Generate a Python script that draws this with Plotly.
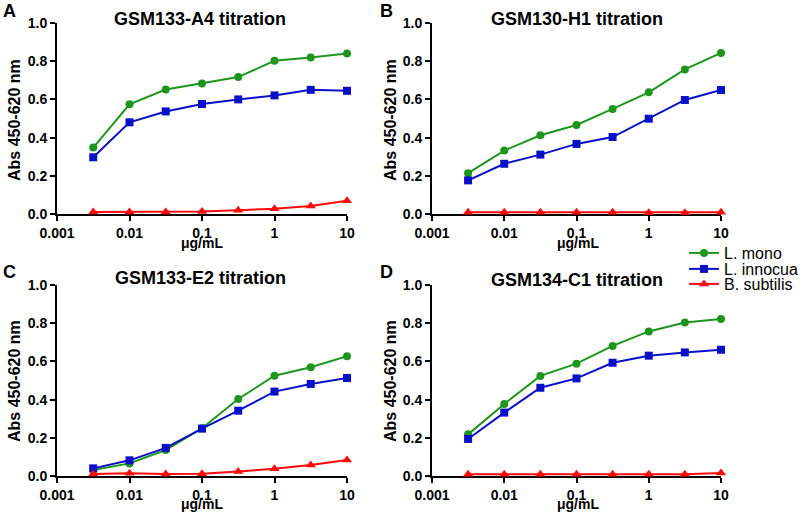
import plotly.graph_objects as go

# ---------------- data ----------------
conc = [0.00316, 0.01, 0.0316, 0.1, 0.316, 1, 3.16, 10]
series_names = ["L. mono", "L. innocua", "B. subtilis"]
panel_titles = ["GSM133-A4 titration", "GSM130-H1 titration",
                "GSM133-E2 titration", "GSM134-C1 titration"]
panel_letters = ["A", "B", "C", "D"]
x_tickvals = [0.001, 0.01, 0.1, 1, 10]
x_ticktext = ["0.001", "0.01", "0.1", "1", "10"]
y_tickvals = [0.0, 0.2, 0.4, 0.6, 0.8, 1.0]
x_title = "μg/mL"
y_title = "Abs 450-620 nm"

a_mono = [0.348, 0.574, 0.652, 0.683, 0.717, 0.802, 0.819, 0.840]
a_innocua = [0.297, 0.480, 0.537, 0.576, 0.600, 0.621, 0.650, 0.645]
a_subtilis = [0.010, 0.010, 0.010, 0.013, 0.020, 0.028, 0.042, 0.070]

b_mono = [0.214, 0.332, 0.412, 0.466, 0.550, 0.637, 0.757, 0.843]
b_innocua = [0.176, 0.263, 0.311, 0.367, 0.403, 0.499, 0.597, 0.649]
b_subtilis = [0.009, 0.009, 0.009, 0.009, 0.009, 0.006, 0.006, 0.009]

c_mono = [0.031, 0.066, 0.136, 0.250, 0.403, 0.525, 0.569, 0.627]
c_innocua = [0.040, 0.082, 0.147, 0.248, 0.342, 0.442, 0.482, 0.513]
c_subtilis = [0.010, 0.014, 0.010, 0.012, 0.023, 0.038, 0.058, 0.084]

d_mono = [0.218, 0.377, 0.524, 0.588, 0.681, 0.757, 0.804, 0.822]
d_innocua = [0.194, 0.332, 0.462, 0.511, 0.593, 0.630, 0.647, 0.661]
d_subtilis = [0.009, 0.009, 0.009, 0.009, 0.009, 0.009, 0.009, 0.016]

panels = [
    [a_mono, a_innocua, a_subtilis],
    [b_mono, b_innocua, b_subtilis],
    [c_mono, c_innocua, c_subtilis],
    [d_mono, d_innocua, d_subtilis],
]

# ---------------- styles ----------------
colors = ["#1e961e", "#0a0fc8", "#ff0a0a"]
symbols = ["circle", "square", "triangle-up"]
msizes = [8, 8, 9]
FONT = "Arial, Liberation Sans, sans-serif"
W, H = 800, 514

# pixel geometry of each panel: (x_left, x_right, y_top, y_bottom)
geom = [(57, 347, 23, 214), (432, 721, 23, 214),
        (57, 347, 285, 476), (432, 721, 285, 476)]
title_pos = [(200, 19), (577, 19), (200, 278), (577, 280)]
letter_pos = [(9, 11), (386, 11), (9, 272), (386, 272)]
xtitle_pos = [(202, 243), (578, 243), (202, 504), (578, 504)]
ytitle_pos = [(14, 120), (390, 120), (14, 381), (390, 381)]
legend_y = [253, 269, 284]
legend_names = ["legend", "legend2", "legend3"]

fig = go.Figure()

for p, series in enumerate(panels):
    ax = "" if p == 0 else str(p + 1)
    for s, vals in enumerate(series):
        fig.add_trace(go.Scatter(
            x=conc, y=vals, mode="lines+markers",
            name=series_names[s],
            showlegend=(p == 0),
            legend=legend_names[s],
            line=dict(color=colors[s], width=2),
            marker=dict(color=colors[s], symbol=symbols[s], size=msizes[s]),
            cliponaxis=False,
            xaxis="x" + ax, yaxis="y" + ax,
        ))

layout = dict(
    width=W, height=H,
    margin=dict(l=0, r=0, t=0, b=0, autoexpand=False),
    paper_bgcolor="white", plot_bgcolor="white",
    font=dict(family=FONT, color="black"),
    annotations=[],
)
for s in range(3):
    layout[legend_names[s]] = dict(
        x=684 / W, y=1 - legend_y[s] / H, xanchor="left", yanchor="middle",
        font=dict(size=16, family=FONT, color="black"),
        bgcolor="rgba(0,0,0,0)", itemwidth=30)

for p in range(4):
    xl, xr, yt, yb = geom[p]
    ax = "" if p == 0 else str(p + 1)
    common = dict(showline=True, linecolor="black", linewidth=2,
                  ticks="outside", ticklen=5, tickwidth=2, tickcolor="black",
                  showgrid=False, zeroline=False, layer="below traces",
                  automargin=False,
                  tickfont=dict(size=14, family=FONT, color="black", weight="bold"))
    layout["xaxis" + ax] = dict(
        common, type="log", range=[-3, 1],
        tickvals=x_tickvals, ticktext=x_ticktext,
        domain=[xl / W, xr / W],
        anchor="y" + ax,
    )
    layout["yaxis" + ax] = dict(
        common, range=[0, 1], tickvals=y_tickvals, tickformat=".1f",
        domain=[1 - yb / H, 1 - yt / H],
        anchor="x" + ax,
    )
    tx, ty = title_pos[p]
    layout["annotations"].append(dict(
        text="<b>%s</b>" % panel_titles[p], x=tx / W, y=1 - ty / H,
        xref="paper", yref="paper", showarrow=False,
        xanchor="center", yanchor="middle",
        font=dict(size=18, family=FONT, color="black")))
    lx, ly = letter_pos[p]
    layout["annotations"].append(dict(
        text="<b>%s</b>" % panel_letters[p], x=lx / W, y=1 - ly / H,
        xref="paper", yref="paper", showarrow=False,
        xanchor="center", yanchor="middle",
        font=dict(size=18, family=FONT, color="black")))
    xx, xy = xtitle_pos[p]
    layout["annotations"].append(dict(
        text="<b>%s</b>" % x_title, x=xx / W, y=1 - xy / H,
        xref="paper", yref="paper", showarrow=False,
        xanchor="center", yanchor="middle",
        font=dict(size=14, family=FONT, color="black")))
    yx, yy = ytitle_pos[p]
    layout["annotations"].append(dict(
        text="<b>%s</b>" % y_title, x=yx / W, y=1 - yy / H,
        xref="paper", yref="paper", showarrow=False, textangle=-90,
        xanchor="center", yanchor="middle",
        font=dict(size=16, family=FONT, color="black")))

fig.update_layout(layout)
fig.write_html("out.html",
               config={"displayModeBar": False},
               post_script="document.body.style.margin='0px';document.body.style.overflow='hidden';")
